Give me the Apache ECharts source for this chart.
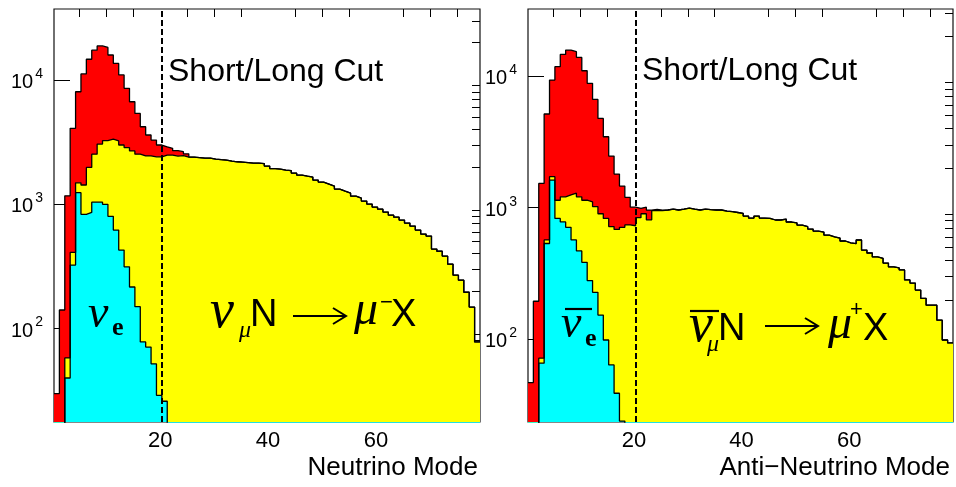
<!doctype html>
<html lang="en">
<head>
<meta charset="UTF-8">
<title>Short/Long Cut</title>
<script src="https://cdn.jsdelivr.net/npm/echarts@6/dist/echarts.min.js"></script>
<style>
  html, body { margin: 0; background: #fff; }
  #chart { width: 956px; height: 487px; }
</style>
</head>
<body>
<div id="chart"></div>
<script>
// bin k covers [binStart + k, binStart + k + 1]
var binStart = 0.3;
var xMax = 79.3;
var cutX = 20.25;
var majorX = [20, 40, 60];
var minorX = [5, 10, 15, 25, 30, 35, 45, 50, 55, 65, 70, 75];
var majorY = [100, 1000, 10000];
var minorY = [20, 30, 40, 50, 60, 70, 80, 90, 200, 300, 400, 500, 600, 700, 800, 900,
              2000, 3000, 4000, 5000, 6000, 7000, 8000, 9000, 20000, 30000];

// neutrino mode
var nuRed = [30, 141, 1170, 4085, 8050, 11200, 14700, 17400, 18800, 18300,
  15900, 13600, 11000, 8570, 6690, 5390, 4210, 3610, 3290, 3000,
  2900, 2820, 2700, 2650, 2550, 2399, 2377, 2355, 2355, 2312,
  2290, 2270, 2228, 2199, 2188, 2168, 2148, 2148, 2128, 2031,
  1938, 1920, 1885, 1868, 1783, 1718, 1686, 1656, 1566, 1509,
  1455, 1403, 1325, 1277, 1231, 1164, 1122, 1061, 1004, 949,
  914, 865, 818, 788, 746, 706, 668, 620, 576, 555,
  436, 419, 383, 330, 269, 245, 196, 149, 78];
var nuYellow = [0, 0, 58, 410, 1490, 1430, 1980, 2530, 3050, 3260,
  3340, 3240, 3000, 2860, 2690, 2530, 2450, 2450, 2410, 2410,
  2490, 2490, 2443, 2466, 2399, 2399, 2377, 2355, 2355, 2312,
  2290, 2270, 2228, 2199, 2188, 2168, 2148, 2148, 2128, 2031,
  1938, 1920, 1885, 1868, 1783, 1718, 1686, 1656, 1566, 1509,
  1455, 1403, 1325, 1277, 1231, 1164, 1122, 1061, 1004, 949,
  914, 865, 818, 788, 746, 706, 668, 620, 576, 555,
  436, 419, 383, 330, 269, 245, 196, 149, 78];
var nuCyan = [0, 0, 40, 324, 1240, 830, 860, 1040, 1040, 1000,
  800, 620, 428, 314, 216, 150, 78, 71, 52, 29,
  26, 0, 0, 0, 0, 0, 0, 0, 0, 0,
  0, 0, 0, 0, 0, 0, 0, 0, 0, 0,
  0, 0, 0, 0, 0, 0, 0, 0, 0, 0,
  0, 0, 0, 0, 0, 0, 0, 0, 0, 0,
  0, 0, 0, 0, 0, 0, 0, 0, 0, 0,
  0, 0, 0, 0, 0, 0, 0, 0, 0];

// anti-neutrino mode
var anuRed = [47, 195, 1530, 5150, 9320, 11780, 14600, 15760, 15300, 13860,
  10970, 8800, 6650, 4770, 3460, 2470, 1800, 1460, 1200, 1010,
  990, 1010, 960, 970, 960, 961, 977, 961, 977, 995,
  977, 961, 977, 968, 961, 961, 944, 933, 920, 907,
  865, 835, 865, 835, 831, 807, 807, 820, 779, 766,
  739, 718, 689, 665, 654, 620, 602, 589, 559, 540,
  534, 569, 477, 453, 423, 413, 380, 355, 349, 337,
  283, 268, 237, 205, 182, 182, 140, 99, 94];
var anuYellow = [0, 0, 72, 570, 1720, 1140, 1210, 1250, 1290, 1210,
  1140, 1110, 1020, 900, 830, 720, 685, 710, 740, 730,
  840, 900, 810, 950, 950, 961, 977, 961, 977, 995,
  977, 961, 977, 968, 961, 961, 944, 933, 920, 907,
  865, 835, 865, 835, 831, 807, 807, 820, 779, 766,
  739, 718, 689, 665, 654, 620, 602, 589, 559, 540,
  534, 569, 477, 453, 423, 413, 380, 355, 349, 337,
  283, 268, 237, 205, 182, 182, 140, 99, 94];
var anuCyan = [0, 0, 66, 535, 1620, 830, 780, 710, 570, 470,
  385, 280, 228, 153, 99, 64, 39, 24, 0, 0,
  0, 0, 0, 0, 0, 0, 0, 0, 0, 0,
  0, 0, 0, 0, 0, 0, 0, 0, 0, 0,
  0, 0, 0, 0, 0, 0, 0, 0, 0, 0,
  0, 0, 0, 0, 0, 0, 0, 0, 0, 0,
  0, 0, 0, 0, 0, 0, 0, 0, 0, 0,
  0, 0, 0, 0, 0, 0, 0, 0, 0];

var sans = '"Liberation Sans", Arial, sans-serif';
var serif = '"Liberation Serif", "Times New Roman", serif';

var panels = [
  { grid: { left: 54, top: 9, width: 426, height: 413 }, yMin: 17.7, yMax: 37300,
    red: nuRed, yellow: nuYellow, cyan: nuCyan },
  { grid: { left: 528, top: 9, width: 425, height: 413 }, yMin: 23.6, yMax: 32300,
    red: anuRed, yellow: anuYellow, cyan: anuCyan }
];

// log axis cannot show empty bins, push them below the visible range
function histData(vals) {
  var pts = vals.map(function (v, k) { return [binStart + k, v > 0 ? v : 1]; });
  var last = vals[vals.length - 1];
  pts.push([binStart + vals.length, last > 0 ? last : 1]);
  return pts;
}

var grids = [], xAxes = [], yAxes = [], series = [];
panels.forEach(function (p, i) {
  grids.push(Object.assign({ show: true, borderColor: '#111', borderWidth: 1.2,
    outerBoundsMode: 'none' }, p.grid));

  var xBase = { gridIndex: i, type: 'value', min: binStart, max: xMax,
    axisLine: { show: false }, splitLine: { show: false } };
  xAxes.push(Object.assign({}, xBase, {
    axisTick: { inside: true, length: 16, customValues: majorX, lineStyle: { color: '#000', width: 1 } },
    axisLabel: { customValues: majorX, margin: 8, color: '#000', fontSize: 22, fontFamily: sans }
  }));
  xAxes.push(Object.assign({}, xBase, {
    axisTick: { inside: true, length: 8, customValues: minorX, lineStyle: { color: '#000', width: 1 } },
    axisLabel: { show: false }
  }));

  var yBase = { gridIndex: i, type: 'log', logBase: 10, min: p.yMin, max: p.yMax,
    axisLine: { show: false }, splitLine: { show: false } };
  yAxes.push(Object.assign({}, yBase, {
    axisTick: { inside: true, length: 16, customValues: majorY, lineStyle: { color: '#000', width: 1 } },
    axisLabel: {
      customValues: majorY, margin: 11, color: '#000',
      formatter: function (v) { return '{b|10}{s|' + Math.round(Math.log10(v)) + '}'; },
      rich: {
        b: { fontSize: 20, fontFamily: sans, color: '#000', padding: [5, 0, 0, 0] },
        s: { fontSize: 14, fontFamily: sans, color: '#000', padding: [0, 0, 12, 2] }
      }
    }
  }));
  yAxes.push(Object.assign({}, yBase, {
    axisTick: { inside: true, length: 8, lineStyle: { color: '#000', width: 1 },
      customValues: minorY.filter(function (v) { return v >= p.yMin && v <= p.yMax; }) },
    axisLabel: { show: false }
  }));

  [['red', '#ff0000'], ['yellow', '#ffff00'], ['cyan', '#00ffff']].forEach(function (s, j) {
    var item = {
      type: 'line', xAxisIndex: 2 * i, yAxisIndex: 2 * i, step: 'end',
      data: histData(p[s[0]]), symbol: 'none', silent: true,
      lineStyle: { color: '#000', width: 1.3 },
      areaStyle: { color: s[1], opacity: 1, origin: 'start' }
    };
    if (j === 2) {
      item.markLine = {
        silent: true, symbol: ['none', 'none'], z: 10,
        label: { show: false },
        lineStyle: { color: '#000', type: [6, 3], width: 2 },
        data: [{ xAxis: cutX }]
      };
    }
    series.push(item);
  });
});

function txt(x, baseline, str, size, font, align) {
  return {
    type: 'text', z: 100, silent: true,
    style: {
      x: x, y: baseline - 0.34 * size, text: str, fill: '#000',
      font: font, align: align || 'left', verticalAlign: 'middle'
    }
  };
}
function bar(x0, x1, y) {
  return { type: 'line', z: 100, silent: true, shape: { x1: x0, y1: y, x2: x1, y2: y },
    style: { stroke: '#000', lineWidth: 2.2 } };
}
function arrow(x0, x1, y) {
  return [
    { type: 'line', z: 100, silent: true, shape: { x1: x0, y1: y, x2: x1, y2: y },
      style: { stroke: '#000', lineWidth: 2 } },
    { type: 'polyline', z: 100, silent: true,
      shape: { points: [[x1 - 13, y - 8], [x1, y], [x1 - 13, y + 8]] },
      style: { stroke: '#000', lineWidth: 2, fill: null } }
  ];
}

var graphics = [
  txt(168, 83.5, 'Short/Long Cut', 32, '32px ' + sans),
  txt(642, 82, 'Short/Long Cut', 32, '32px ' + sans),
  txt(478, 477, 'Neutrino Mode', 26, '26px ' + sans, 'right'),
  txt(950, 477, 'Anti\u2212Neutrino Mode', 26, '26px ' + sans, 'right'),

  // nu_e
  txt(88, 331, '\u03bd', 46, 'italic 46px ' + serif),
  txt(112, 337, 'e', 26, 'bold 26px ' + serif),
  // anti nu_e
  bar(565, 592, 309),
  txt(561, 341, '\u03bd', 46, 'italic 46px ' + serif),
  txt(585, 348, 'e', 26, 'bold 26px ' + serif),

  // nu_mu N -> mu- X
  txt(210, 331, '\u03bd', 54, 'italic 54px ' + serif),
  txt(239, 339, '\u03bc', 24, 'italic 24px ' + serif),
  txt(250, 328, 'N', 38, '38px ' + sans),
  txt(354, 328, '\u03bc', 48, 'italic 48px ' + serif),
  txt(380, 310, '\u2212', 22, '22px ' + sans),
  txt(391, 328, 'X', 38, '38px ' + sans),

  // anti nu_mu N -> mu+ X
  bar(690, 719, 311),
  txt(689, 345, '\u03bd', 54, 'italic 54px ' + serif),
  txt(707, 353, '\u03bc', 24, 'italic 24px ' + serif),
  txt(718, 342, 'N', 38, '38px ' + sans),
  txt(828, 342, '\u03bc', 48, 'italic 48px ' + serif),
  txt(850, 317, '+', 22, '22px ' + sans),
  txt(863, 342, 'X', 38, '38px ' + sans)
].concat(arrow(293, 346, 316), arrow(765, 818, 326));

var chart = echarts.init(document.getElementById('chart'));
chart.setOption({
  animation: false,
  backgroundColor: '#fff',
  grid: grids,
  xAxis: xAxes,
  yAxis: yAxes,
  series: series,
  graphic: graphics
});
</script>
</body>
</html>
